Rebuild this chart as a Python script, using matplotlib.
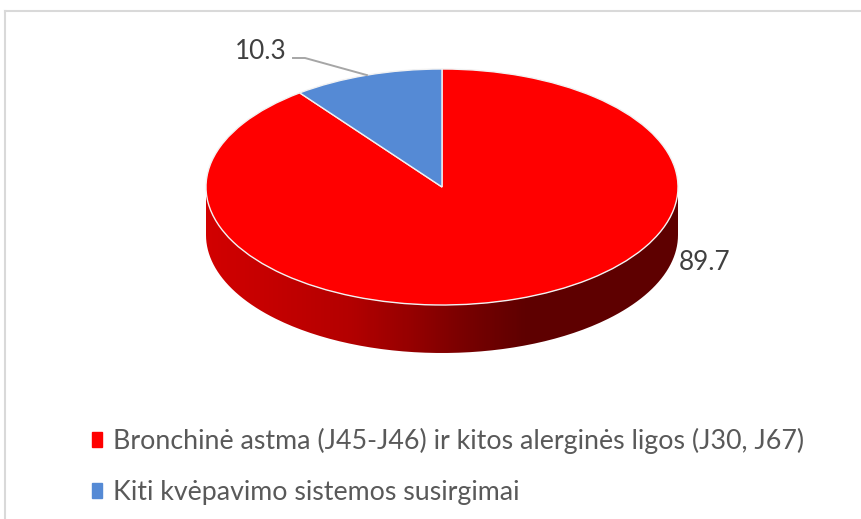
import numpy as np
import matplotlib
matplotlib.use('Agg')
import matplotlib.pyplot as plt
from matplotlib.colors import LinearSegmentedColormap
from matplotlib.lines import Line2D
from matplotlib.patches import Patch, PathPatch
from matplotlib.path import Path

categories = ['Bronchinė astma (J45-J46) ir kitos alerginės ligos (J30, J67)',
              'Kiti kvėpavimo sistemos susirgimai']
values = [89.7, 10.3]
colors = ['#FF0000', '#558AD5']

W, H = 862, 519
cx, cy, rx, ry = 442, 187, 236, 118   # top ellipse in pixels
depth = 48 / ry

plt.rcParams['font.family'] = ['Lato', 'DejaVu Sans']

fig = plt.figure(figsize=(W / 100, H / 100), dpi=100, facecolor='white')
ax = fig.add_axes([0, 0, 1, 1])


def px(x, y):
    return (x - cx) / rx, (cy - y) / ry


wedges, _ = ax.pie(values, colors=colors, startangle=90, counterclock=False,
                   wedgeprops=dict(edgecolor='#f2f2f2', linewidth=1, zorder=3))
ax.set_aspect('auto')
ax.axis('off')

# side wall of the disc, shaded from left to right
t = np.linspace(np.pi, 2 * np.pi, 200)
xs = np.cos(t)
ys = np.sin(t)
wall = np.r_[np.c_[xs, ys - depth], np.c_[xs[::-1], ys[::-1]]]
clip = PathPatch(Path(np.r_[wall, wall[:1]]), transform=ax.transData, fc='none', ec='none')
ax.add_patch(clip)
shade = LinearSegmentedColormap.from_list('side', [(0, '#D20000'), (0.3, '#B40000'),
                                                    (0.45, '#920000'), (0.55, '#780000'),
                                                    (0.68, '#5E0000'), (1, '#5E0000')])
img = ax.imshow(np.linspace(0, 1, 472)[None, :], cmap=shade, aspect='auto',
                extent=(-1, 1, -1 - depth, 0), zorder=2)
img.set_clip_path(clip)
ax.set_xlim(px(0, 0)[0], px(W, 0)[0])
ax.set_ylim(px(0, H)[1], px(0, 0)[1])

# leader line goes to the middle of the small slice
blue = wedges[1]
mid = np.deg2rad((blue.theta1 + blue.theta2) / 2)
tip = np.cos(mid), np.sin(mid)
elbow = px(305, 58)
start = px(293, 58)
ax.plot([start[0], elbow[0], tip[0]], [start[1], elbow[1], tip[1]],
        color='#A6A6A6', lw=1.4, zorder=4)

ax.text(*px(287, 51), f'{values[1]}', fontsize=18.8, color='#404040',
        ha='right', va='center')
ax.text(*px(679, 262), f'{values[0]}', fontsize=18.8, color='#404040',
        ha='left', va='center')

leg = ax.legend(handles=[Patch(color=c, label=n) for c, n in zip(colors, categories)],
                loc='upper left', bbox_to_anchor=(84 / W, 1 - 420 / H), frameon=False,
                fontsize=19.25, labelcolor='#595959', handlelength=0.38, handleheight=0.45,
                handletextpad=0.42, labelspacing=0.97, borderaxespad=0, borderpad=0.3)

# chart frame
fig.add_artist(Line2D([5 / W, 1], [1 - 11 / H, 1 - 11 / H], color='#D9D9D9', lw=1.5))
fig.add_artist(Line2D([5 / W, 5 / W], [0, 1 - 11 / H], color='#D9D9D9', lw=1.5))

fig.savefig('out.png', dpi=100)
